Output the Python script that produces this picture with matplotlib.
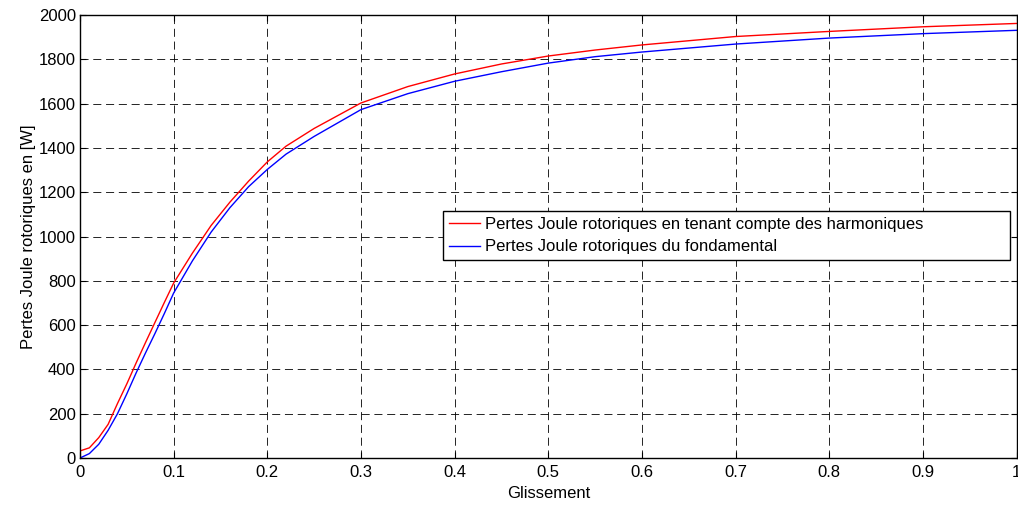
import matplotlib.pyplot as plt

plt.rcParams['font.family'] = ['Liberation Sans', 'DejaVu Sans']
plt.rcParams['lines.scale_dashes'] = False

# slip values (Glissement)
glissement = [0, 0.01, 0.02, 0.03, 0.04, 0.05, 0.06, 0.07, 0.08, 0.09, 0.10,
              0.12, 0.14, 0.16, 0.18, 0.20, 0.22, 0.25, 0.30, 0.35, 0.40,
              0.45, 0.50, 0.55, 0.60, 0.70, 0.80, 0.90, 1.0]

# rotor Joule losses with harmonics [W]
pertes_harm = [32, 46, 92, 152, 246, 335, 430, 522, 612, 702, 790,
               925, 1050, 1155, 1250, 1337, 1408, 1488, 1603, 1677, 1734,
               1779, 1815, 1842, 1865, 1903, 1926, 1947, 1962]

# rotor Joule losses, fundamental only [W]
pertes_fond = [0, 20, 62, 125, 200, 290, 385, 475, 562, 652, 745,
               890, 1020, 1130, 1225, 1303, 1372, 1452, 1573, 1645, 1701,
               1744, 1783, 1812, 1833, 1869, 1896, 1916, 1931]

fig = plt.figure(figsize=(10.18, 5.08), dpi=100)
ax = fig.add_axes([0.0786, 0.0984, 0.920, 0.872])

ax.plot(glissement, pertes_harm, color='red', lw=1,
        label='Pertes Joule rotoriques en tenant compte des harmoniques')
ax.plot(glissement, pertes_fond, color='blue', lw=1,
        label='Pertes Joule rotoriques du fondamental')

ax.set_xlim(0, 1)
ax.set_ylim(0, 2000)
ax.set_xticks([i / 10 for i in range(11)])
ax.set_xticklabels(['0', '0.1', '0.2', '0.3', '0.4', '0.5', '0.6', '0.7', '0.8', '0.9', '1'])
ax.set_yticks(range(0, 2001, 200))

ax.grid(True, color='black', lw=0.6, linestyle=(0, (5.8, 3.4)))
ax.tick_params(direction='in', top=True, right=True, length=4, width=0.8,
               labelsize=12)
ax.tick_params(axis='x', pad=5)
ax.tick_params(axis='y', pad=3)
for s in ax.spines.values():
    s.set_linewidth(1)

ax.set_xlabel('Glissement', fontsize=12, labelpad=4)
ax.set_ylabel('Pertes Joule rotoriques en [W]', fontsize=12, labelpad=2)

# MATLAB-style legend box, wider than its text
leg = ax.legend(loc='upper left', bbox_to_anchor=(0.3874, 0.4402, 0.6051, 0.1174),
                mode='expand', borderaxespad=0, fontsize=12, fancybox=False,
                framealpha=1, edgecolor='black', handlelength=1.9,
                handletextpad=0.25, borderpad=0.35, labelspacing=0.45)
leg.get_frame().set_linewidth(1)

fig.savefig('out.png', dpi=100)
